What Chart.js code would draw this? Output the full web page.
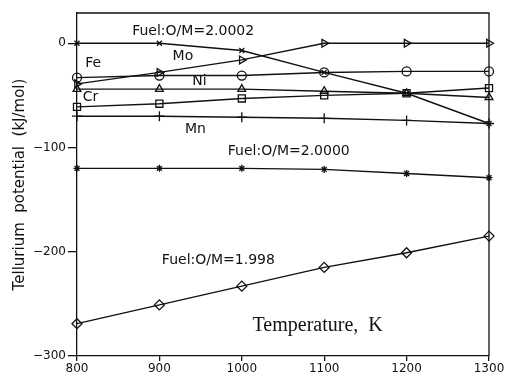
<!DOCTYPE html>
<html>
<head>
<meta charset="utf-8">
<title>Tellurium potential</title>
<script src="https://cdn.jsdelivr.net/npm/chart.js"></script>
<style>
  html, body { margin: 0; padding: 0; background: #fff; }
  #wrap { width: 507px; height: 377px; }
</style>
</head>
<body>
<div id="wrap"><canvas id="chart"></canvas></div>
<script>
// temperatures (K) and tellurium potentials (kJ/mol)
const temps = [800, 900, 1000, 1100, 1200, 1300];
const om20002 = [0, 0, -7, -28, -48, -77];
const mo = [-39, -28, -16, 0, 0, 0];
const fe = [-33, -31, -31, -28, -27, -27];
const ni = [-44, -44, -44, -46, -48, -52];
const cr = [-61, -58, -53, -50, -48, -43];
const mn = [-70, -70, -71, -72, -74, -77];
const om20000 = [-120, -120, -120, -121, -125, -129];
const om1998 = [-269, -251, -233, -215, -201, -185];
const yTicks = [0, -100, -200, -300];

// in-plot labels, placed in data units
const notes = [
  { text: 'Fuel:O/M=2.0002', x: 867, y: 11 },
  { text: 'Fe', x: 810, y: -19 },
  { text: 'Mo', x: 916, y: -13 },
  { text: 'Ni', x: 940, y: -37 },
  { text: 'Cr', x: 807, y: -52 },
  { text: 'Mn', x: 931, y: -83 },
  { text: 'Fuel:O/M=2.0000', x: 983, y: -104 },
  { text: 'Fuel:O/M=1.998', x: 903, y: -208 }
];

const ink = '#111';
const pts = arr => temps.map((t, i) => ({ x: t, y: arr[i] }));

function series(data, style, radius, extra) {
  return Object.assign({
    data: pts(data),
    pointStyle: style,
    pointRadius: radius,
    borderColor: ink,
    backgroundColor: 'transparent',
    pointBorderColor: ink,
    pointBackgroundColor: 'transparent',
    borderWidth: 1.4,
    pointBorderWidth: 1.3,
    tension: 0,
    clip: false
  }, extra || {});
}

const notesPlugin = {
  id: 'notes',
  afterDatasetsDraw(chart) {
    const { ctx, chartArea, scales } = chart;
    ctx.save();
    // top and right frame
    ctx.strokeStyle = ink;
    ctx.lineWidth = 1.3;
    ctx.beginPath();
    ctx.moveTo(chartArea.left, chartArea.top);
    ctx.lineTo(chartArea.right, chartArea.top);
    ctx.lineTo(chartArea.right, chartArea.bottom);
    ctx.stroke();

    ctx.fillStyle = ink;
    ctx.textAlign = 'left';
    ctx.textBaseline = 'middle';
    ctx.font = '14px "DejaVu Sans"';
    notes.forEach(n => {
      ctx.fillText(n.text, scales.x.getPixelForValue(n.x), scales.y.getPixelForValue(n.y));
    });
    // x axis title sits inside the plot
    ctx.font = '20px "Liberation Serif"';
    ctx.fillText('Temperature,  K', scales.x.getPixelForValue(1013), scales.y.getPixelForValue(-271));
    ctx.restore();
  }
};

new Chart(document.getElementById('chart'), {
  type: 'line',
  data: {
    datasets: [
      series(om20002, 'crossRot', 3.5),
      series(mo, 'triangle', 4.5, { pointRotation: 90 }),
      series(fe, 'circle', 4.5),
      series(ni, 'triangle', 4.5),
      series(cr, 'rect', 5),
      series(mn, 'cross', 5),
      series(om20000, 'star', 3.5),
      series(om1998, 'rectRot', 5)
    ]
  },
  options: {
    responsive: true,
    maintainAspectRatio: false,
    animation: false,
    events: [],
    layout: { padding: { top: 13, right: 18, left: 0, bottom: 0 } },
    plugins: {
      legend: { display: false },
      tooltip: { enabled: false }
    },
    scales: {
      x: {
        type: 'linear',
        min: 800,
        max: 1300,
        afterFit: s => { s.height = 21; },
        border: { display: true, color: ink, width: 1.3 },
        grid: { drawOnChartArea: false, drawTicks: true, tickLength: 5, color: ink, lineWidth: 1.3 },
        ticks: {
          stepSize: 100,
          padding: 1,
          color: ink,
          font: { family: 'DejaVu Sans', size: 12 },
          maxRotation: 0,
          callback: v => String(v)
        }
      },
      y: {
        min: -300,
        max: 29,
        afterFit: s => { s.width = 77; },
        afterBuildTicks: s => { s.ticks = yTicks.map(v => ({ value: v })); },
        border: { display: true, color: ink, width: 1.3 },
        grid: { drawOnChartArea: false, drawTicks: true, tickLength: 9, color: ink, lineWidth: 1.3 },
        ticks: {
          padding: 2,
          color: ink,
          font: { family: 'DejaVu Sans', size: 12 },
          callback: v => String(v).replace('-', '\u2212')
        },
        title: {
          display: true,
          text: 'Tellurium  potential  (kJ/mol)',
          color: ink,
          font: { family: 'DejaVu Sans', size: 15 },
          padding: { top: 11, bottom: 0 }
        }
      }
    }
  },
  plugins: [notesPlugin]
});
</script>
</body>
</html>
